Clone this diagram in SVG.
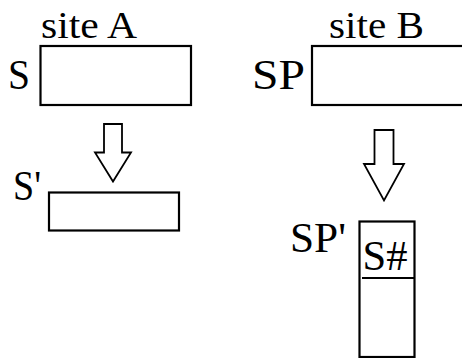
<svg xmlns="http://www.w3.org/2000/svg" width="462" height="358" viewBox="0 0 462 358">
  <style>
    .box { fill: #fff; stroke: #000; stroke-width: 2.2; }
    .conn { fill: #fff; stroke: #000; stroke-width: 1.8; stroke-linejoin: miter; }
    .site { font-family: "Liberation Serif", "Times New Roman", serif; font-size: 37px; fill: #000; }
    .lbl { font-family: "Liberation Serif", "Times New Roman", serif; font-size: 43px; fill: #000; }
  </style>
  <rect width="462" height="358" fill="#fff"/>

  <g id="siteA">
    <text class="site" x="41" y="37.5" textLength="96" lengthAdjust="spacingAndGlyphs">site A</text>
  </g>
  <g id="siteB">
    <text class="site" x="329" y="37.5" textLength="95" lengthAdjust="spacingAndGlyphs">site B</text>
  </g>

  <g id="S">
    <text class="lbl" x="8" y="89" textLength="22" lengthAdjust="spacingAndGlyphs">S</text>
    <rect class="box" x="40.5" y="46" width="150.5" height="59"/>
  </g>

  <g id="S-prime">
    <text class="lbl" x="13" y="200" textLength="28" lengthAdjust="spacingAndGlyphs">S'</text>
    <rect class="box" x="49" y="192.5" width="130" height="38"/>
  </g>

  <g id="SP">
    <text class="lbl" x="252" y="89" textLength="53" lengthAdjust="spacingAndGlyphs">SP</text>
    <rect class="box" x="312" y="46" width="170" height="59"/>
  </g>

  <g id="SP-prime">
    <text class="lbl" x="290" y="251.5" textLength="56" lengthAdjust="spacingAndGlyphs">SP'</text>
    <rect class="box" x="359.5" y="221.5" width="55" height="135.5"/>
    <text class="lbl" x="362.5" y="270" textLength="45" lengthAdjust="spacingAndGlyphs">S#</text>
    <line x1="362" y1="278" x2="414.5" y2="278" stroke="#000" stroke-width="2"/>
  </g>

  <g id="connectors">
    <!-- hollow block arrows: S to S', SP to SP' -->
    <polygon class="conn" points="104,124 122,124 122,152.5 131,152.5 113,181.5 95,152.5 104,152.5"/>
    <polygon class="conn" points="374.5,130 393.5,130 393.5,164 404,164 384,200.5 364,164 374.5,164"/>
  </g>
</svg>
